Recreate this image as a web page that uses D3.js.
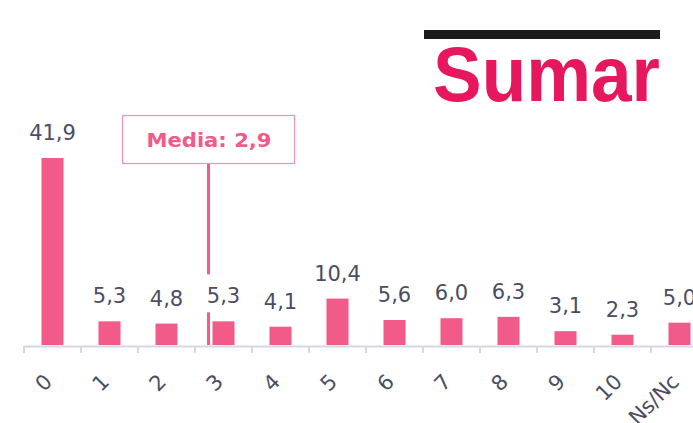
<!DOCTYPE html>
<html>
<head>
<meta charset="utf-8">
<script src="https://cdn.jsdelivr.net/npm/d3@7"></script>
<style>
  body { margin: 0; background: #fff; }
  svg { display: block; }
</style>
</head>
<body>
<div id="chart"></div>
<script>
// survey values per score
const categories = ['0', '1', '2', '3', '4', '5', '6', '7', '8', '9', '10', 'Ns/Nc'];
const values = [41.9, 5.3, 4.8, 5.3, 4.1, 10.4, 5.6, 6.0, 6.3, 3.1, 2.3, 5.0];
const meanValue = 2.9;
const meanLabel = 'Media: 2,9';
const party = 'Sumar';

const W = 693, H = 423;
const pink = '#f15a89';
const textCol = '#4a4d63';
const font = '"DejaVu Sans", sans-serif';
const fmt = v => v.toFixed(1).replace('.', ',');

const svg = d3.select('#chart').append('svg')
    .attr('width', W)
    .attr('height', H);

let xScale = d3.scaleBand()
    .domain(categories)
    .range([24, 24 + 57 * categories.length])
    .paddingInner(0)
    .paddingOuter(0);

let yScale = d3.scaleLinear()
    .domain([0, 41.9])
    .range([345, 158]);

const barW = 22;
const bx = d => xScale(d) + (xScale.bandwidth() - barW) / 2;

// logo
svg.append('rect')
    .attr('x', 424).attr('y', 30)
    .attr('width', 236).attr('height', 9)
    .attr('fill', '#1c1c1c');
svg.append('text')
    .attr('x', 433).attr('y', 101)
    .attr('textLength', 227)
    .attr('lengthAdjust', 'spacingAndGlyphs')
    .style('font-family', '"Liberation Sans", Arial, sans-serif')
    .style('font-weight', 'bold')
    .style('font-size', '77px')
    .attr('fill', '#e6175c')
    .text(party);

// mean marker, sits just left of the bar for "3"
const meanX = bx(categories[Math.round(meanValue)]) - 4;
svg.append('line')
    .attr('x1', meanX).attr('x2', meanX)
    .attr('y1', 163).attr('y2', yScale(0))
    .attr('stroke', pink)
    .attr('stroke-width', 3);

svg.append('rect')
    .attr('x', 122.5).attr('y', 115.5)
    .attr('width', 172).attr('height', 48)
    .attr('fill', '#fff')
    .attr('stroke', '#f592b3')
    .attr('stroke-width', 1.2);
svg.append('text')
    .attr('x', 209).attr('y', 147)
    .attr('text-anchor', 'middle')
    .attr('textLength', 125)
    .attr('lengthAdjust', 'spacingAndGlyphs')
    .style('font-family', font)
    .style('font-weight', 'bold')
    .style('font-size', '20px')
    .attr('fill', pink)
    .text(meanLabel);

// axis
const gAxis = svg.append('g');
gAxis.append('line')
    .attr('x1', 24).attr('x2', W)
    .attr('y1', 346.5).attr('y2', 346.5)
    .attr('stroke', '#d6d7e2')
    .attr('stroke-width', 2);
gAxis.selectAll('line.tick')
    .data(categories)
    .enter()
    .append('line')
        .attr('class', 'tick')
        .attr('x1', d => xScale(d))
        .attr('x2', d => xScale(d))
        .attr('y1', 346)
        .attr('y2', 353)
        .attr('stroke', '#d6d7e2')
        .attr('stroke-width', 2);
gAxis.selectAll('text')
    .data(categories)
    .enter()
    .append('text')
        .attr('text-anchor', 'end')
        .attr('transform', d => `translate(${xScale(d) + xScale.bandwidth() / 2 + 1}, 383) rotate(-45)`)
        .style('font-family', font)
        .style('font-size', '21px')
        .attr('fill', textCol)
        .text(d => d);

// labels with white backing
const labels = svg.append('g').selectAll('g')
    .data(values)
    .enter()
    .append('g')
        .attr('transform', (d, i) => `translate(${bx(categories[i]) + barW / 2}, ${yScale(d) - 18})`);
labels.append('rect')
    .attr('x', -24).attr('y', -29)
    .attr('width', 48).attr('height', 38)
    .attr('fill', '#fff');
labels.append('text')
    .attr('text-anchor', 'middle')
    .style('font-family', font)
    .style('font-size', '21px')
    .attr('fill', textCol)
    .text(d => fmt(d));

// bars
svg.append('g').selectAll('rect')
    .data(values)
    .enter()
    .append('rect')
        .attr('x', (d, i) => bx(categories[i]))
        .attr('y', d => yScale(d))
        .attr('width', barW)
        .attr('height', d => yScale(0) - yScale(d))
        .attr('fill', pink);
</script>
</body>
</html>
